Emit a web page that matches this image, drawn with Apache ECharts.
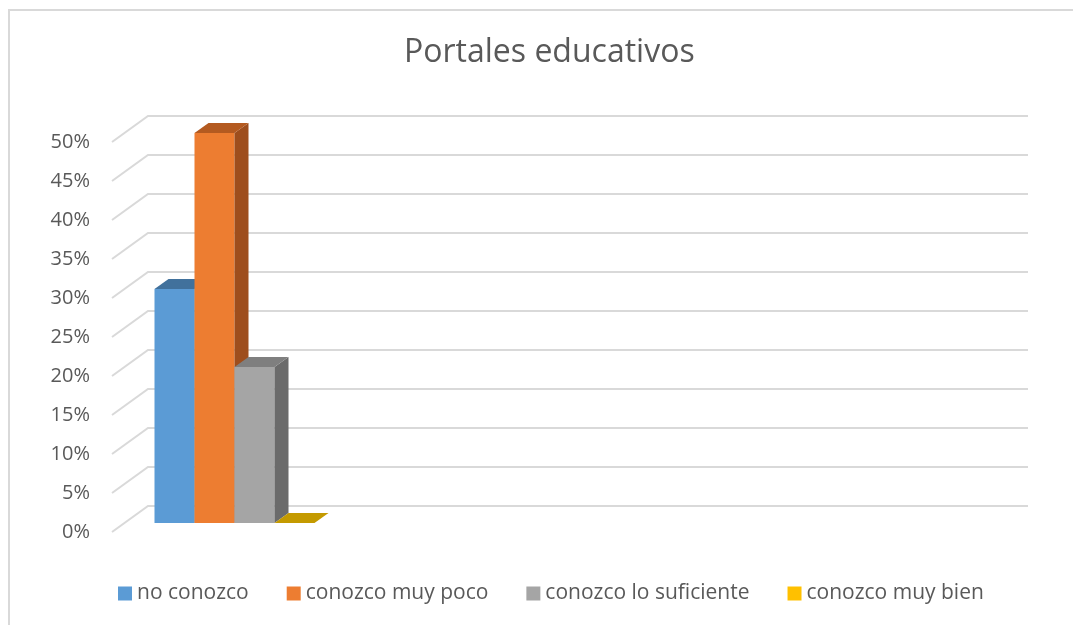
<!DOCTYPE html>
<html>
<head>
<meta charset="utf-8">
<script src="https://cdn.jsdelivr.net/npm/echarts@6/dist/echarts.min.js"></script>
<style>
  html, body { margin: 0; padding: 0; background: #fff; }
  #chart { width: 1073px; height: 625px; }
</style>
</head>
<body>
<div id="chart"></div>
<script>
// data
const categories = ['Portales educativos', '', '', ''];
const seriesNames = ['no conozco', 'conozco muy poco', 'conozco lo suficiente', 'conozco muy bien'];
const noConozco = [30];
const conozcoMuyPoco = [50];
const conozcoLoSuficiente = [20];
const conozcoMuyBien = [0];
const yTicks = [0, 5, 10, 15, 20, 25, 30, 35, 40, 45, 50];

const seriesValues = [noConozco, conozcoMuyPoco, conozcoLoSuficiente, conozcoMuyBien];

// face / side / top colours
const COLORS = [
  { face: '#5B9BD5', side: '#4A80B3', top: '#41719C' },
  { face: '#ED7D31', side: '#9E4E1D', top: '#B45A20' },
  { face: '#A5A5A5', side: '#6B6B6B', top: '#7F7F7F' },
  { face: '#FFC000', side: '#B08600', top: '#C49A00' },
];

const FONT = 'Open Sans';
const TEXT = '#595959';
const GAP_WIDTH = 1.5;      // excel gap width 150%
const WALL_DX = 36, WALL_DY = -26;   // back wall offset
const FRONT_DX = 12.5, FRONT_DY = -9; // bar front plane offset
const DEPTH_DX = 14, DEPTH_DY = -10;  // bar depth

const chart = echarts.init(document.getElementById('chart'));

function wallRender(params, api) {
  const cs = params.coordSys;
  const y = api.coord([0, api.value(1)])[1];
  return {
    type: 'polyline',
    silent: true,
    shape: {
      points: [
        [cs.x, y],
        [cs.x + WALL_DX, y + WALL_DY],
        [cs.x + cs.width + WALL_DX, y + WALL_DY],
      ],
    },
    style: { stroke: '#D9D9D9', lineWidth: 2, fill: null },
  };
}

function barRender(idx) {
  return function (params, api) {
    const cat = api.value(0);
    const val = api.value(1);
    const band = api.size([1, 0])[0];
    const barW = band / (seriesNames.length + GAP_WIDTH);
    const center = api.coord([cat, 0])[0];
    const x0 = center - (barW * seriesNames.length) / 2 + idx * barW + FRONT_DX;
    const x1 = x0 + barW;
    const yb = api.coord([cat, 0])[1] + FRONT_DY;
    const yt = api.coord([cat, val])[1] + FRONT_DY;
    const c = COLORS[idx];
    return {
      type: 'group',
      children: [
        {
          type: 'polygon',
          shape: { points: [[x0, yb], [x1, yb], [x1, yt], [x0, yt]] },
          style: { fill: c.face },
        },
        {
          type: 'polygon',
          shape: { points: [[x1, yb], [x1 + DEPTH_DX, yb + DEPTH_DY], [x1 + DEPTH_DX, yt + DEPTH_DY], [x1, yt]] },
          style: { fill: c.side },
        },
        {
          type: 'polygon',
          shape: { points: [[x0, yt], [x1, yt], [x1 + DEPTH_DX, yt + DEPTH_DY], [x0 + DEPTH_DX, yt + DEPTH_DY]] },
          style: { fill: c.top },
        },
      ],
    };
  };
}

const barSeries = seriesNames.map((name, i) => ({
  name: name,
  type: 'custom',
  z: 3,
  itemStyle: { color: COLORS[i].face },
  renderItem: barRender(i),
  encode: { x: 0, y: 1 },
  data: seriesValues[i].map((v, k) => [k, v]),
}));

const option = {
  backgroundColor: '#fff',
  animation: false,
  textStyle: { fontFamily: FONT },
  title: {
    text: 'Portales educativos',
    left: 399,
    top: 32,
    textStyle: { fontFamily: FONT, fontSize: 32, fontWeight: 'normal', color: TEXT },
  },
  graphic: [
    {
      type: 'rect',
      silent: true,
      shape: { x: 9, y: 10, width: 2000, height: 2000 },
      style: { fill: null, stroke: '#D9D9D9', lineWidth: 2 },
    },
  ],
  legend: {
    data: seriesNames,
    top: 578,
    left: 113,
    icon: 'rect',
    itemWidth: 14,
    itemHeight: 14,
    itemGap: 38,
    textStyle: { fontFamily: FONT, fontSize: 21, color: TEXT },
  },
  grid: { left: 112, right: 81, top: 142, bottom: 93 },
  xAxis: {
    type: 'category',
    data: categories,
    axisLine: { show: false },
    axisTick: { show: false },
    axisLabel: { show: false },
    splitLine: { show: false },
  },
  yAxis: {
    type: 'value',
    min: 0,
    max: 50,
    interval: 5,
    axisLine: { show: false },
    axisTick: { show: false },
    splitLine: { show: false },
    axisLabel: {
      formatter: '{value}%',
      fontFamily: FONT,
      fontSize: 20,
      color: TEXT,
      margin: 22,
    },
  },
  series: [
    {
      name: 'walls',
      type: 'custom',
      z: 1,
      silent: true,
      renderItem: wallRender,
      encode: { x: 0, y: 1 },
      data: yTicks.map(v => [0, v]),
    },
  ].concat(barSeries),
};

chart.setOption(option);
</script>
</body>
</html>
